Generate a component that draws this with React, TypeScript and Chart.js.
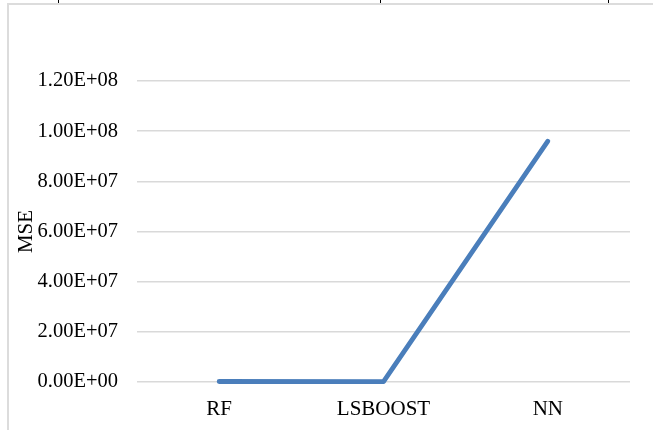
import React, { useEffect, useRef } from "react";
import { Chart, registerables } from "chart.js";

Chart.register(...registerables);

const categories = ["RF", "LSBOOST", "NN"];
const mseValues = [2.0e5, 1.5e5, 9.6e7];
const yMin = 0;
const yMax = 1.2e8;
const yStep = 2e7;
const yTitle = "MSE";

const SERIF = '"Liberation Serif", "Times New Roman", Times, serif';

function formatExp(v: number): string {
  const [m, e] = Number(v).toExponential(2).split("e");
  const sign = e.startsWith("-") ? "-" : "+";
  const digits = e.replace(/[+-]/, "").padStart(2, "0");
  return `${m}E${sign}${digits}`;
}

export default function App() {
  const canvasRef = useRef<HTMLCanvasElement | null>(null);

  useEffect(() => {
    if (!canvasRef.current) return;
    const chart = new Chart(canvasRef.current, {
      type: "line",
      data: {
        labels: categories,
        datasets: [
          {
            label: yTitle,
            data: mseValues,
            borderColor: "#4a7ebb",
            backgroundColor: "#4a7ebb",
            borderWidth: 4.8,
            borderCapStyle: "round",
            borderJoinStyle: "round",
            pointRadius: 0,
            pointHoverRadius: 0,
            tension: 0,
            clip: false as any,
          },
        ],
      },
      options: {
        responsive: false,
        animation: false,
        events: [],
        layout: { padding: { left: 10, right: 23, top: 81, bottom: 10 } },
        plugins: {
          legend: { display: false },
          tooltip: { enabled: false },
          title: { display: false },
        },
        scales: {
          x: {
            offset: true,
            grid: { display: false, drawTicks: false },
            border: { display: false },
            ticks: {
              padding: 15,
              color: "#000",
              font: { family: SERIF, size: 21 },
              maxRotation: 0,
            },
            afterFit: (scale: any) => {
              scale.height = 38;
            },
          },
          y: {
            min: yMin,
            max: yMax,
            grid: { color: "#d9d9d9", lineWidth: 1.5, drawTicks: false },
            border: { display: false },
            ticks: {
              stepSize: yStep,
              padding: 19,
              color: "#000",
              font: { family: SERIF, size: 20.5 },
              callback: (v: any) => formatExp(Number(v)),
            },
            title: {
              display: true,
              text: yTitle,
              color: "#000",
              font: { family: SERIF, size: 21 },
              padding: { top: 4, bottom: 0 },
            },
            afterFit: (scale: any) => {
              scale.width = 127;
            },
          },
        },
      },
    });
    return () => chart.destroy();
  }, []);

  const tick = (x: number) => (
    <div
      key={x}
      style={{
        position: "absolute",
        left: x,
        top: 0,
        width: 1,
        height: 3,
        background: "#000",
      }}
    />
  );

  return (
    <div
      style={{
        position: "fixed",
        left: 0,
        top: 0,
        width: 653,
        height: 430,
        background: "#fff",
        overflow: "hidden",
      }}
    >
      <div
        style={{
          position: "absolute",
          left: 7,
          top: 3,
          width: 653,
          height: 440,
          borderLeft: "2px solid #dcdcdc",
          borderTop: "2px solid #dcdcdc",
        }}
      />
      {[58, 380, 608].map(tick)}
      <canvas
        ref={canvasRef}
        width={653}
        height={430}
        style={{ position: "absolute", left: 0, top: 0, width: 653, height: 430 }}
      />
    </div>
  );
}
